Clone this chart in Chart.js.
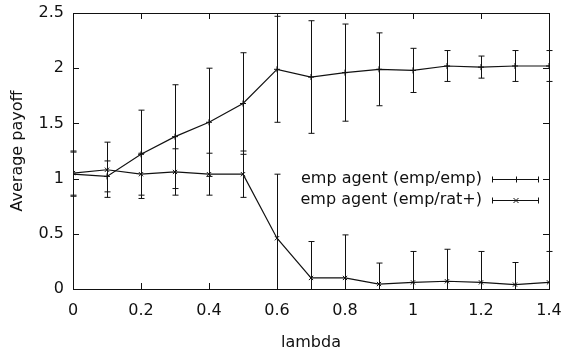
<!DOCTYPE html>
<html>
<head>
<meta charset="utf-8">
<script src="https://cdn.jsdelivr.net/npm/chart.js@4"></script>
<style>
html,body{margin:0;padding:0;background:#fff;}
#wrap{width:563px;height:352px;}
</style>
</head>
<body>
<div id="wrap"><canvas id="payoffChart" width="563" height="352"></canvas></div>
<script>
const lambdas = [0,0.1,0.2,0.3,0.4,0.5,0.6,0.7,0.8,0.9,1.0,1.1,1.2,1.3,1.4];

const empEmp = [1.04,1.02,1.22,1.38,1.51,1.68,1.99,1.92,1.96,1.99,1.98,2.02,2.01,2.02,2.02];
const empEmpErr = [0.20,0.14,0.40,0.47,0.49,0.46,0.48,0.51,0.44,0.33,0.20,0.14,0.10,0.14,0.14];

const empRat = [1.05,1.08,1.04,1.06,1.04,1.04,0.46,0.10,0.10,0.045,0.06,0.07,0.06,0.04,0.06];
const empRatErr = [0.20,0.25,0.19,0.21,0.19,0.21,0.58,0.33,0.39,0.19,0.28,0.29,0.28,0.20,0.28];

const xTicks = [0,0.2,0.4,0.6,0.8,1,1.2,1.4];
const yTicks = [0,0.5,1,1.5,2,2.5];

const legendLabels = ['emp agent (emp/emp)','emp agent (emp/rat+)'];

const FONT = '"DejaVu Sans", Verdana, sans-serif';
const FSIZE = 16;
const INK = '#111';

function pts(vals){
  return lambdas.map((x,i)=>({x:x,y:vals[i]}));
}

// error bars, inward ticks, frame and gnuplot-style key
const gnuplotLook = {
  id:'gnuplotLook',
  afterDatasetsDraw(chart){
    const ctx = chart.ctx, xs = chart.scales.x, ys = chart.scales.y, a = chart.chartArea;
    const errs = [empEmpErr, empRatErr];
    ctx.save();
    ctx.beginPath();
    ctx.rect(a.left-4, a.top-1, a.right-a.left+8, a.bottom-a.top+2);
    ctx.clip();
    ctx.strokeStyle = INK;
    ctx.lineWidth = 1;
    chart.data.datasets.forEach((ds,di)=>{
      ds.data.forEach((p,i)=>{
        const px = Math.round(xs.getPixelForValue(p.x))+0.5;
        const top = Math.max(ys.getPixelForValue(p.y+errs[di][i]), a.top);
        const bot = ys.getPixelForValue(p.y-errs[di][i]);
        ctx.beginPath();
        ctx.moveTo(px,top); ctx.lineTo(px,Math.min(bot,a.bottom));
        ctx.moveTo(px-3,top); ctx.lineTo(px+3,top);
        if(bot <= a.bottom){ ctx.moveTo(px-3,bot); ctx.lineTo(px+3,bot); }
        ctx.stroke();
      });
    });
    ctx.restore();
  },
  afterDraw(chart){
    const ctx = chart.ctx, xs = chart.scales.x, ys = chart.scales.y, a = chart.chartArea;
    ctx.save();
    ctx.strokeStyle = INK;
    ctx.lineWidth = 1;
    ctx.strokeRect(Math.round(a.left)+0.5, Math.round(a.top)+0.5, Math.round(a.right-a.left), Math.round(a.bottom-a.top));
    ctx.beginPath();
    xTicks.forEach(v=>{
      const px = Math.round(xs.getPixelForValue(v))+0.5;
      ctx.moveTo(px,a.bottom); ctx.lineTo(px,a.bottom-6);
      ctx.moveTo(px,a.top); ctx.lineTo(px,a.top+6);
    });
    yTicks.forEach(v=>{
      const py = Math.round(ys.getPixelForValue(v))+0.5;
      ctx.moveTo(a.left,py); ctx.lineTo(a.left+6,py);
      ctx.moveTo(a.right,py); ctx.lineTo(a.right-6,py);
    });
    ctx.stroke();

    // key
    ctx.font = FSIZE + 'px ' + FONT;
    ctx.fillStyle = INK;
    ctx.textAlign = 'right';
    ctx.textBaseline = 'middle';
    const rowsY = [179,200];
    const x0 = 492, x1 = 539, xm = 516;
    legendLabels.forEach((lab,i)=>{
      const y = rowsY[i]+0.5;
      ctx.fillText(lab, 482, rowsY[i]);
      ctx.beginPath();
      ctx.moveTo(x0,y); ctx.lineTo(x1,y);
      ctx.moveTo(x0+0.5,y-3); ctx.lineTo(x0+0.5,y+3);
      ctx.moveTo(x1-0.5,y-3); ctx.lineTo(x1-0.5,y+3);
      if(i===0){
        ctx.moveTo(xm-3,y); ctx.lineTo(xm+3,y);
        ctx.moveTo(xm+0.5,y-3); ctx.lineTo(xm+0.5,y+3);
      } else {
        ctx.moveTo(xm-2.5,y-2.5); ctx.lineTo(xm+2.5,y+2.5);
        ctx.moveTo(xm-2.5,y+2.5); ctx.lineTo(xm+2.5,y-2.5);
      }
      ctx.stroke();
    });
    ctx.restore();
  }
};

const ctx = document.getElementById('payoffChart');

new Chart(ctx, {
  type:'line',
  data:{
    datasets:[
      {
        label:legendLabels[0],
        data:pts(empEmp),
        borderColor:INK,
        backgroundColor:INK,
        borderWidth:1.2,
        pointStyle:'cross',
        pointRadius:3,
        pointBorderWidth:1,
        tension:0,
        fill:false
      },
      {
        label:legendLabels[1],
        data:pts(empRat),
        borderColor:INK,
        backgroundColor:INK,
        borderWidth:1.2,
        pointStyle:'crossRot',
        pointRadius:3,
        pointBorderWidth:1,
        tension:0,
        fill:false
      }
    ]
  },
  options:{
    responsive:false,
    animation:false,
    layout:{padding:{top:13,right:14,left:0,bottom:0}},
    plugins:{
      legend:{display:false},
      tooltip:{enabled:false}
    },
    scales:{
      x:{
        type:'linear',
        min:0,
        max:1.4,
        afterBuildTicks(scale){ scale.ticks = xTicks.map(v=>({value:v})); },
        afterFit(scale){ scale.height = 63; scale.paddingLeft = 0; scale.paddingRight = 0; },
        grid:{display:false,drawTicks:false},
        border:{display:false},
        ticks:{color:INK,padding:12,font:{family:FONT,size:FSIZE},maxRotation:0,callback:v=>String(v)},
        title:{display:true,text:'lambda',color:INK,font:{family:FONT,size:FSIZE},padding:{top:8,bottom:0}}
      },
      y:{
        min:0,
        max:2.5,
        afterBuildTicks(scale){ scale.ticks = yTicks.map(v=>({value:v})); },
        afterFit(scale){ scale.width = 73; scale.paddingTop = 0; scale.paddingBottom = 0; },
        grid:{display:false,drawTicks:false},
        border:{display:false},
        ticks:{color:INK,padding:9,font:{family:FONT,size:FSIZE},callback:v=>String(v)},
        title:{display:true,text:'Average payoff',color:INK,font:{family:FONT,size:FSIZE},padding:{top:8,bottom:0}}
      }
    }
  },
  plugins:[gnuplotLook]
});
</script>
</body>
</html>
